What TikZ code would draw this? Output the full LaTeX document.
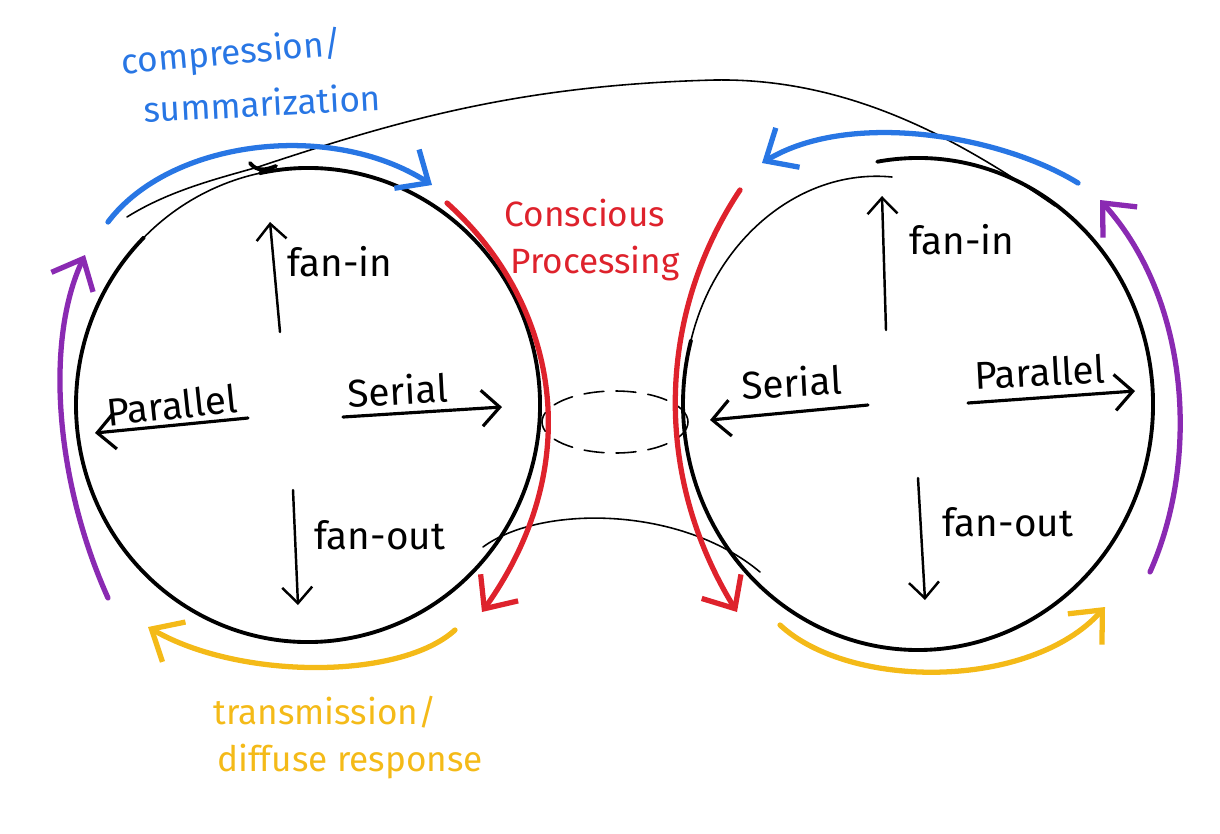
\documentclass[tikz,border=0pt]{standalone}
\usepackage{fontspec}
\setmainfont{Fira Sans}
\usetikzlibrary{arrows.meta, calc, positioning}

\definecolor{penblue}{RGB}{40,118,228}
\definecolor{penred}{RGB}{222,34,44}
\definecolor{penpurple}{RGB}{138,42,178}
\definecolor{penyellow}{RGB}{244,186,24}

\begin{document}
\begin{tikzpicture}[x=0.1mm, y=-0.1mm, line cap=round, line join=round,
    every node/.style={font=\fontsize{11}{13}\selectfont},
    tag/.style={font=\fontsize{10}{12}\selectfont, inner sep=1pt},
    rim/.style={line width=1.1pt},
    faint/.style={line width=0.45pt},
    loop/.style={line width=1.5pt, -{Straight Barb[length=2.6mm, width=4.6mm]}},
    flow/.style={line width=0.9pt, -{Straight Barb[length=1.8mm, width=3.6mm]}},
    spoke/.style={line width=0.7pt, -{Straight Barb[length=1.6mm, width=3mm]}}]
	\useasboundingbox (0,0) rectangle (1220,833);
	
	% Circles
	\coordinate (L) at (308,405);
	\coordinate (R) at (918,404);
	\draw[rim] (L) ++(258:232 and 237) arc[start angle=258, end angle=585, x radius=232, y radius=237];
	\draw[faint] (L) ++(225:232 and 237) arc[start angle=225, end angle=258, x radius=232, y radius=237];
	\draw[rim] (250,163) .. controls (257,172) and (266,170) .. (276,166);
	\draw[rim] (R) ++(260:235 and 246) arc[start angle=260, end angle=555, x radius=235, y radius=246];
	\draw[faint] (R) ++(195:235 and 246) .. controls (715,240) and (800,168) .. (892,177);
	
	% Outer hull and the bridge
	\draw[faint] (127,217) .. controls (170,190) and (220,178) .. (258,167)
	  .. controls (400,120) and (520,85) .. (715,80)
	  .. controls (850,78) and (960,140) .. (1055,206);
	\draw[faint] (483,547) .. controls (540,505) and (680,505) .. (760,572);
	\draw[faint, dash pattern=on 2mm off 1.2mm] (615,422) ellipse[x radius=73, y radius=31];
	
	% Coloured loops
	\draw[loop, penblue] (108,222) .. controls (170,140) and (330,120) .. (432,185);
	\draw[loop, penblue] (1078,183) .. controls (1000,135) and (850,110) .. (762,163);
	\draw[loop, penred] (447,203) .. controls (555,300) and (590,460) .. (482,612);
	\draw[loop, penred] (740,190) .. controls (660,310) and (650,470) .. (737,612);
	\draw[loop, penpurple] (108,598) .. controls (55,480) and (45,340) .. (85,255);
	\draw[loop, penpurple] (1150,572) .. controls (1200,460) and (1190,300) .. (1100,200);
	\draw[loop, penyellow] (455,630) .. controls (400,680) and (240,680) .. (148,627);
	\draw[loop, penyellow] (780,625) .. controls (850,690) and (1030,690) .. (1105,607);
	
	% Loop labels
	\node[tag, penblue, rotate=5] (compTop) at (232,54) {compression/};
	\node[tag, penblue, rotate=3] (compBot) at (262,103) {summarization};
	\node[tag, penred] (consTop) at (585,213) {Conscious};
	\node[tag, penred] (consBot) at (595,264) {Processing};
	\node[tag, penyellow] (tranTop) at (325,712) {transmission/};
	\node[tag, penyellow] (tranBot) at (350,762) {diffuse response};
	
	% Spokes, left circle
	\coordinate (lUpA) at (280,332);  \coordinate (lUpB) at (270,222);
	\coordinate (lLfA) at (248,418);  \coordinate (lLfB) at (95,433);
	\coordinate (lRtA) at (343,417);  \coordinate (lRtB) at (502,407);
	\coordinate (lDnA) at (293,490);  \coordinate (lDnB) at (298,605);
	\draw[spoke] (lUpA) -- (lUpB);
	\draw[flow] (lLfA) -- (lLfB);
	\draw[flow] (lRtA) -- (lRtB);
	\draw[spoke] (lDnA) -- (lDnB);
	\node (lFanIn) at (340,262) {fan-in};
	\node[rotate=6] (lPar) at (172,405) {Parallel};
	\node[rotate=3] (lSer) at (398,390) {Serial};
	\node (lFanOut) at (380,535) {fan-out};
	
	% Spokes, right circle
	\coordinate (rUpA) at (886,330);  \coordinate (rUpB) at (882,196);
	\coordinate (rLfA) at (868,405);  \coordinate (rLfB) at (710,420);
	\coordinate (rRtA) at (968,403);  \coordinate (rRtB) at (1135,391);
	\coordinate (rDnA) at (918,478);  \coordinate (rDnB) at (925,600);
	\draw[spoke] (rUpA) -- (rUpB);
	\draw[flow] (rLfA) -- (rLfB);
	\draw[flow] (rRtA) -- (rRtB);
	\draw[spoke] (rDnA) -- (rDnB);
	\node (rFanIn) at (962,240) {fan-in};
	\node[rotate=3] (rSer) at (792,382) {Serial};
	\node[rotate=3] (rPar) at (1040,372) {Parallel};
	\node (rFanOut) at (1008,522) {fan-out};
\end{tikzpicture}
\end{document}
